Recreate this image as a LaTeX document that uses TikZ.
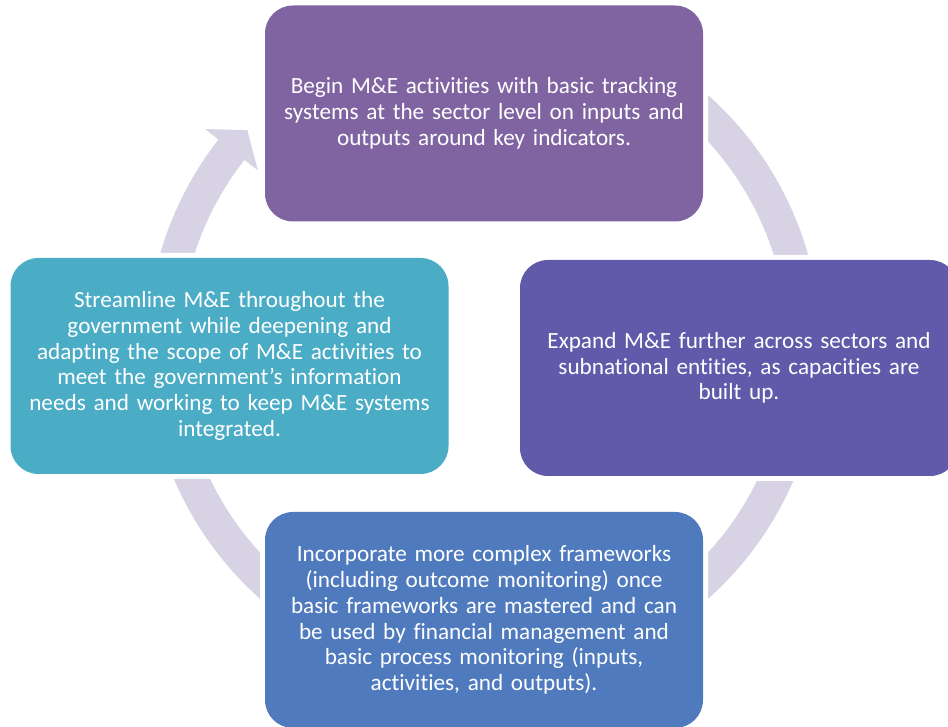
\documentclass[tikz,border=0pt]{standalone}
\usepackage{fontspec}
\setmainfont{Carlito}[Ligatures=NoCommon]
\definecolor{ringc}{RGB}{215,211,228}
\definecolor{cTop}{RGB}{128,100,162}
\definecolor{cRight}{RGB}{95,91,170}
\definecolor{cBottom}{RGB}{79,123,190}
\definecolor{cLeft}{RGB}{75,172,198}
\tikzset{
  stagebox/.style={rectangle, rounded corners=28pt, minimum width=438pt, minimum height=216pt,
    inner sep=0pt, outer sep=0pt, text=white, align=center, text width=430pt,
    font=\fontsize{23.2}{25.8}\selectfont,
    preaction={draw=white, line width=10pt}},
}
\begin{document}
\begin{tikzpicture}[x=1pt,y=1pt]
\useasboundingbox (0,0) rectangle (948,727);
% ring with arrowhead
\begin{scope}[shift={(484,380)}]
\fill[ringc] (60:337pt) arc[start angle=60, end angle=-218, radius=337pt]
  -- (-218:354pt) -- (-222.5:321pt) -- (-218:287pt) -- (-218:304pt)
  arc[start angle=-218, end angle=60, radius=304pt] -- cycle;
\end{scope}
% boxes
\node[stagebox, fill=cTop] (top) at (484,613.5)
  {Begin M\&E activities with basic tracking\\ systems at the sector level on inputs and\\ outputs around key indicators.};
\node[stagebox, fill=cRight] (right) at (739,359)
  {Expand M\&E further across sectors and\\ subnational entities, as capacities are\\ built up.};
\node[stagebox, fill=cLeft] (left) at (229.5,361)
  {Streamline M\&E throughout the\\ government while deepening and\\ adapting the scope of M\&E activities to\\ meet the government’s information\\ needs and working to keep M\&E systems\\ integrated.};
\node[stagebox, fill=cBottom] (bottom) at (484,107)
  {Incorporate more complex frameworks\\ (including outcome monitoring) once\\ basic frameworks are mastered and can\\ be used by financial management and\\ basic process monitoring (inputs,\\ activities, and outputs).};
\end{tikzpicture}
\end{document}
